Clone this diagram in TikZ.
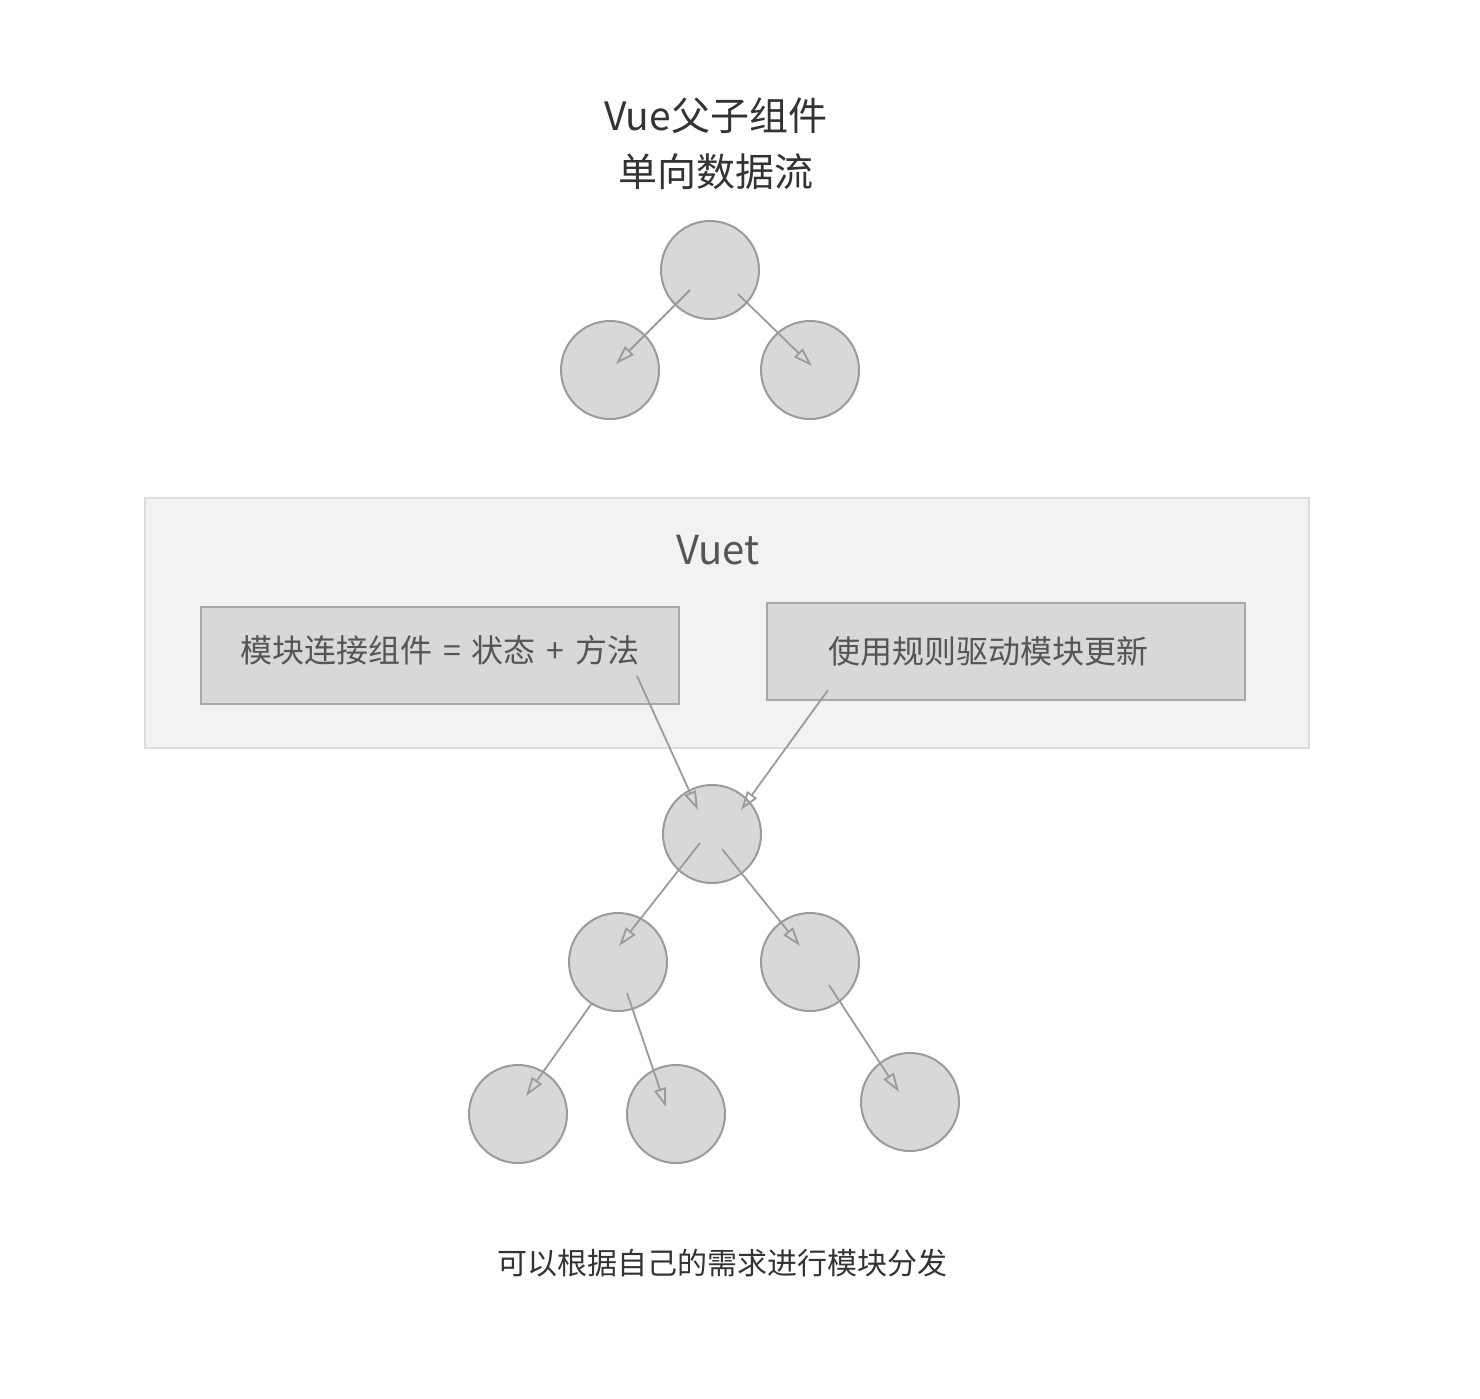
\documentclass[tikz,border=0pt]{standalone}
\usepackage{fontspec}
\setmainfont{Noto Sans CJK SC}
\usetikzlibrary{arrows.meta}
\definecolor{cfill}{HTML}{D8D8D8}
\definecolor{cline}{HTML}{9B9B9B}
\definecolor{bline}{HTML}{A8A8A8}
\definecolor{panel}{HTML}{F2F2F2}
\definecolor{pline}{HTML}{DDDDDD}
\definecolor{txtA}{HTML}{333333}
\definecolor{txtB}{HTML}{555555}
\tikzstyle{vertex}=[circle, draw=cline, fill=cfill, line width=2pt, minimum size=98pt, inner sep=0pt]
\tikzstyle{edge}=[line width=1.8pt, cline, -{Triangle[open, length=19pt, width=12pt, line width=1.8pt]}]
\tikzstyle{mbox}=[draw=bline, fill=cfill, line width=2pt, minimum width=478pt, minimum height=97pt, text=txtB, font=\fontsize{32}{32}\selectfont]

\begin{document}
\begin{tikzpicture}[x=1pt, y=-1pt]
		\useasboundingbox (0,0) rectangle (1480,1398);
		\node[align=center, text=txtA, font=\fontsize{39}{56}\selectfont] (title) at (716,144) {Vue父子组件\\单向数据流};
		% top tree
		\node[vertex] (a0) at (710,270) {};
		\node[vertex] (a1) at (610,370) {};
		\node[vertex] (a2) at (810,370) {};
		\draw[edge] ([shift={(-20,20)}]a0.center) -- ([shift={(6,-6)}]a1.center);
		\draw[edge] ([shift={(28,24)}]a0.center) -- ([shift={(2,-4)}]a2.center);
		% Vuet panel
		\draw[pline, fill=panel, line width=2pt] (145,498) rectangle (1309,748);
		\node[text=txtB, font=\fontsize{40}{40}\selectfont] (vuet) at (718,550) {Vuet};
		\node[mbox] (m1) at (440,655.5) {\raisebox{5pt}[\height][\depth]{模块连接组件\hspace{11pt}=\hspace{11pt}状态\hspace{11pt}+\hspace{11pt}方法}};
		\node[mbox] (m2) at (1006,651.5) {\hspace*{-36pt}使用规则驱动模块更新};
		% bottom tree
		\node[vertex] (b0) at (712,834) {};
		\node[vertex] (b1) at (618,962) {};
		\node[vertex] (b2) at (810,962) {};
		\node[vertex] (c1) at (518,1114) {};
		\node[vertex] (c2) at (676,1114) {};
		\node[vertex] (c3) at (910,1102) {};
		\draw[edge] ([shift={(197,20.5)}]m1.center) -- ([shift={(-14,-24)}]b0.center);
		\draw[edge] ([shift={(-178,38.5)}]m2.center) -- ([shift={(29,-24)}]b0.center);
		\draw[edge] ([shift={(-12,9)}]b0.center) -- ([shift={(1,-16)}]b1.center);
		\draw[edge] ([shift={(10,15)}]b0.center) -- ([shift={(-10,-16)}]b2.center);
		\draw[edge] ([shift={(-26,41)}]b1.center) -- ([shift={(8,-18)}]c1.center);
		\draw[edge] ([shift={(9,31)}]b1.center) -- ([shift={(-10,-7)}]c2.center);
		\draw[edge] ([shift={(19,23)}]b2.center) -- ([shift={(-11,-10)}]c3.center);
		\node[text=txtA, font=\fontsize{30}{30}\selectfont] (note) at (722,1263) {可以根据自己的需求进行模块分发};
	\end{tikzpicture}
\end{document}
